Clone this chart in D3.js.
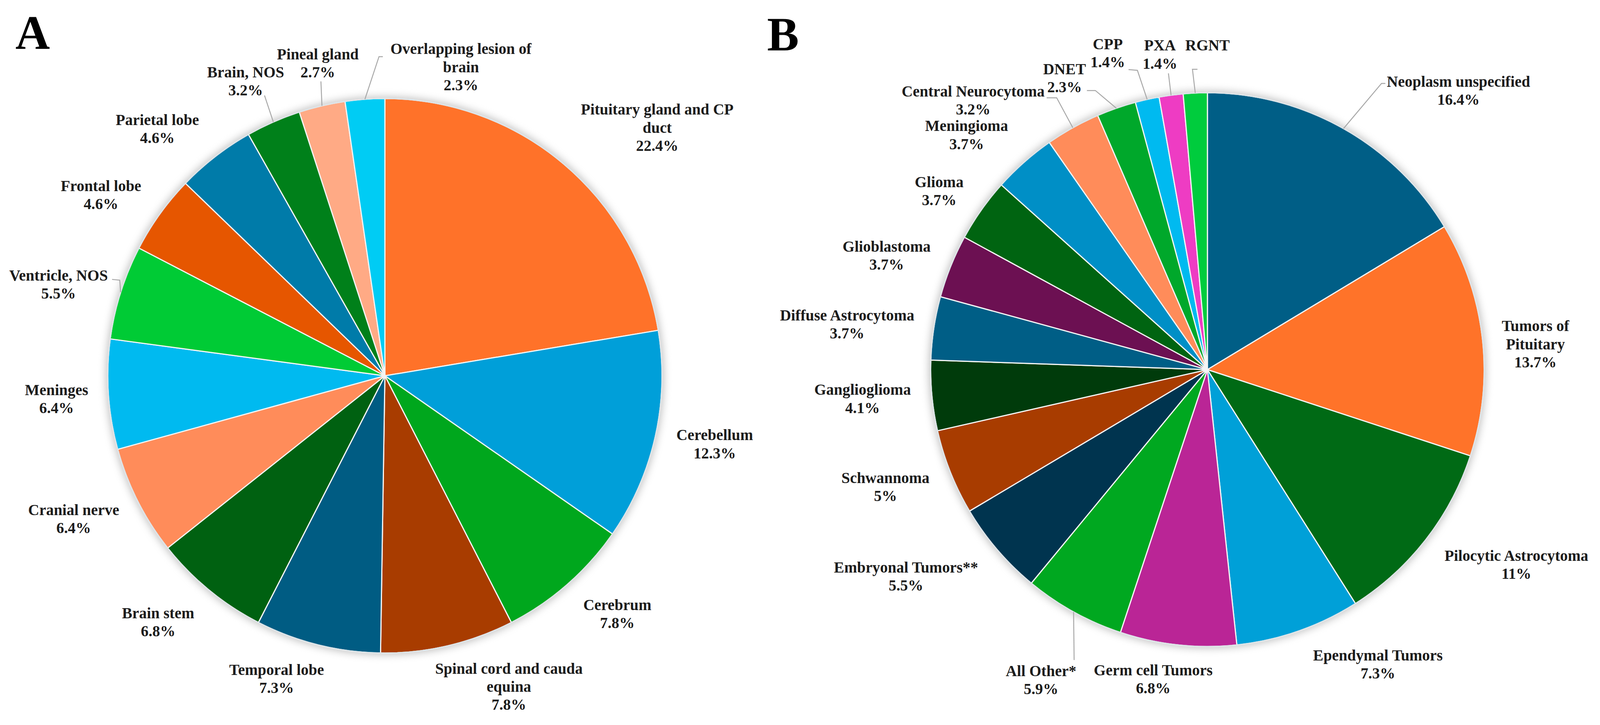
<!DOCTYPE html>
<html>
<head>
<meta charset="utf-8">
<script src="https://cdn.jsdelivr.net/npm/d3@7/dist/d3.min.js"></script>
<style>
  html, body { margin: 0; padding: 0; background: #fff; overflow: hidden; }
  svg { display: block; }
  text { font-family: "Liberation Serif", "Times New Roman", serif; font-weight: bold; fill: #1c1c1c; }
</style>
</head>
<body>
<div id="chart"></div>
<script>
// Panel A: tumour site
const siteNames = ["Pituitary gland and CP\nduct", "Cerebellum", "Cerebrum", "Spinal cord and cauda\nequina",
    "Temporal lobe", "Brain stem", "Cranial nerve", "Meninges", "Ventricle, NOS", "Frontal lobe",
    "Parietal lobe", "Brain, NOS", "Pineal gland", "Overlapping lesion of\nbrain"];
const siteValues = [22.4, 12.3, 7.8, 7.8, 7.3, 6.8, 6.4, 6.4, 5.5, 4.6, 4.6, 3.2, 2.7, 2.3];
const siteColors = ["#FF7229", "#009FD9", "#00A71D", "#A83C00", "#005C83", "#006111", "#FF8C5A",
    "#00BAF0", "#00CB35", "#E65600", "#007BA9", "#00801A", "#FFAA85", "#00CCF4"];

// Panel B: histology
const histNames = ["Neoplasm unspecified", "Tumors of\nPituitary", "Pilocytic Astrocytoma", "Ependymal Tumors",
    "Germ cell Tumors", "All Other*", "Embryonal Tumors**", "Schwannoma", "Ganglioglioma",
    "Diffuse Astrocytoma", "Glioblastoma", "Glioma", "Meningioma", "Central Neurocytoma",
    "DNET", "CPP", "PXA", "RGNT"];
const histValues = [16.4, 13.7, 11, 7.3, 6.8, 5.9, 5.5, 5, 4.1, 3.7, 3.7, 3.7, 3.7, 3.2, 2.3, 1.4, 1.4, 1.4];
const histShowValue = [true, true, true, true, true, true, true, true, true, true, true, true, true, true, true, true, true, false];
const histColors = ["#005E86", "#FF7329", "#006A15", "#00A0D8", "#BA2596", "#00A820", "#00344F", "#A83C00",
    "#003B0B", "#005E86", "#6C1052", "#006411", "#008FC6", "#FF8C5A", "#00A82B", "#00BAF0", "#EE3CC3", "#00CC3D"];

// label layout: shift from the default spot (1.2 x radius on slice mid angle)
const siteNudge = [[149, 15], [14, -12], [35, -32], [126, -34], [-72, -51], [-41, -28], [-38, -19],
    [9, 2], [-24, 23], [-36, 35], [-62, 42], [-14, 26], [22, 30], [260, 60]];
const siteLeaders = { 8: [[159, -11], [139, -13]], 11: [[49, 37]], 12: [[8, 47]], 13: [[-213, -27], [-203, -27]] };

const histNudge = [[228, 27], [-5, 31], [122, -23], [159, -49], [-49, -54], [-15, 51], [-128, -24],
    [-35, -15], [-37, -5], [-83, 12], [-33, 26], [8, 34], [-54, 37], [-189, 55], [-87, 58],
    [-71, 20], [-10, 37], [38, 20]];
const histLeaders = { 0: [[-200, -19], [-190, -19]], 5: [[86, -52]], 13: [[217, -7], [191, -7]],
    14: [[80, 32], [58, 32]], 15: [[77, 45], [54, 43]], 16: [[22, 49]], 17: [[-39, 62], [-26, 62]] };

const W = 4157, H = 1855;
const fontSize = 40, lineH = 47;

// scale to whatever the viewport really is
const svg = d3.select("#chart")
    .append("svg")
    .attr("viewBox", `0 0 ${W} ${H}`)
    .attr("preserveAspectRatio", "xMidYMid meet")
    .style("width", "100vw")
    .style("height", "100vh")
    .style("background", "#fff");

const defs = svg.append("defs");
defs.append("filter")
    .attr("id", "glow")
    .attr("x", "-20%").attr("y", "-20%")
    .attr("width", "140%").attr("height", "140%")
    .append("feGaussianBlur")
    .attr("stdDeviation", 10);

function drawPie(cx, cy, r, names, values, colors, showValue, nudge, leaders) {
    const g = svg.append("g").attr("transform", `translate(${cx},${cy})`);

    const pie = d3.pie().sort(null).value(d => d);
    const arcs = pie(values);
    const arc = d3.arc().innerRadius(0).outerRadius(r);

    // soft shadow round the disc
    g.append("circle")
        .attr("r", r + 5)
        .attr("fill", "#8a8a8a")
        .attr("opacity", 0.5)
        .attr("filter", "url(#glow)");

    g.selectAll("path.slice")
        .data(arcs)
        .enter()
        .append("path")
        .attr("class", "slice")
        .attr("d", arc)
        .attr("fill", (d, i) => colors[i])
        .attr("stroke", "#f4f4f4")
        .attr("stroke-width", 3)
        .attr("stroke-linejoin", "round");

    g.append("circle")
        .attr("r", r)
        .attr("fill", "none")
        .attr("stroke", "#dde4e8")
        .attr("stroke-width", 3);

    const polar = (ang, rad) => [rad * Math.sin(ang), -rad * Math.cos(ang)];
    const line = d3.line();

    arcs.forEach((a, i) => {
        const mid = (a.startAngle + a.endAngle) / 2;
        const p = polar(mid, r * 1.2);
        const lx = p[0] + nudge[i][0], ly = p[1] + nudge[i][1];

        if (leaders[i]) {
            const pts = [polar(mid, r)].concat(leaders[i].map(o => [lx + o[0], ly + o[1]]));
            g.append("path")
                .attr("d", line(pts))
                .attr("fill", "none")
                .attr("stroke", "#a8a8a8")
                .attr("stroke-width", 2.5);
        }

        const lines = names[i].split("\n");
        if (showValue[i]) lines.push(d3.format("~")(values[i]) + "%");
        const t = g.append("text")
            .attr("text-anchor", "middle")
            .attr("font-size", fontSize);
        lines.forEach((s, k) => {
            t.append("tspan")
                .attr("x", lx)
                .attr("y", ly + (k - (lines.length - 1) / 2) * lineH)
                .attr("dominant-baseline", "central")
                .text(s);
        });
    });
}

drawPie(1000, 962, 720, siteNames, siteValues, siteColors, siteValues.map(() => true), siteNudge, siteLeaders);
drawPie(3137, 946, 719, histNames, histValues, histColors, histShowValue, histNudge, histLeaders);

svg.append("text").attr("x", 40).attr("y", 113).attr("font-size", 124).style("fill", "#000").text("A");
svg.append("text").attr("x", 1993).attr("y", 117).attr("font-size", 124).style("fill", "#000").text("B");
</script>
</body>
</html>
